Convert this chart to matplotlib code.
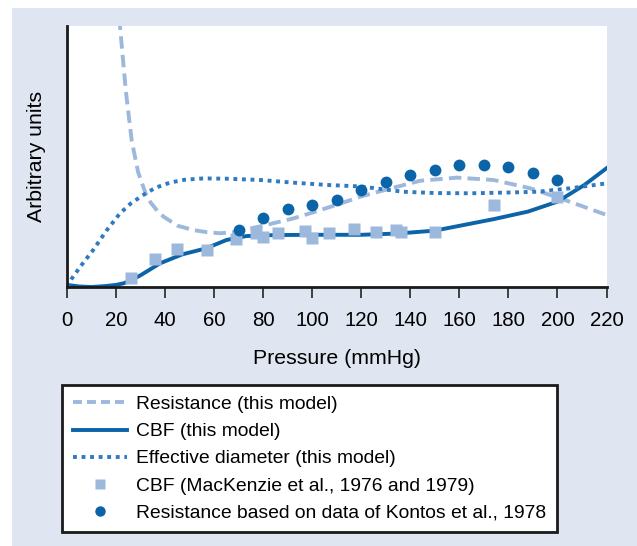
import matplotlib
matplotlib.use("Agg")
import matplotlib.pyplot as plt
from matplotlib.patches import Rectangle
from matplotlib.lines import Line2D

plt.rcParams['font.family'] = ['Liberation Sans', 'DejaVu Sans']

# model curves
res_x = [20, 21.6, 24, 26.4, 29, 32, 34, 37, 39.3, 45, 51.6, 57, 62.4, 68, 73.3, 80,
         92.4, 100, 110, 119.6, 130.5, 144, 159, 174, 189, 201, 210, 220]
res_y = [125, 100, 75, 56, 44, 36, 32.5, 29, 27, 23.5, 21.8, 21, 20.6, 21, 22.1, 23.5,
         26.3, 28.5, 31.5, 34.6, 37.4, 40.7, 41.9, 41, 37.8, 34, 31, 27.6]

cbf_x = [0, 5, 10, 15, 20, 23, 26, 30, 38, 47, 56.7, 65, 73, 80, 86, 100, 120, 135,
         150, 162, 174, 188, 200, 211, 220]
cbf_y = [0.8, 0.2, 0, 0.3, 0.8, 1.4, 2.5, 4.5, 9.1, 12.5, 14.8, 18, 19.5, 19.8, 19.9,
         20, 20, 20.5, 21.6, 23.8, 26, 28.9, 32.7, 39.1, 45.5]

dia_x = [0, 2, 6, 10.7, 16, 21.6, 26, 31, 36, 42, 48, 55.6, 65, 78.8, 92, 106, 120,
         137, 150, 164.5, 180, 192, 205, 220]
dia_y = [0, 3.3, 8.5, 14.2, 21.5, 28.2, 32, 35.2, 38, 40, 41.1, 41.6, 41.5, 41, 40,
         39.1, 38.5, 36.5, 36, 35.9, 36.2, 36.5, 37.8, 39.7]

# measured data
mk_x = [26, 36, 45, 57, 69, 77, 80, 86, 97, 100, 107, 117, 126, 134, 136, 150, 174, 200]
mk_y = [3.3, 10.6, 14.6, 14.2, 18.5, 20.6, 19.0, 20.6, 21.5, 18.7, 20.6, 22.1, 21.2,
        21.8, 21.2, 21.2, 31.4, 34.4]

ko_x = [70, 80, 90, 100, 110, 120, 130, 140, 150, 160, 170, 180, 190, 200]
ko_y = [21.8, 26.3, 30, 31.5, 33.3, 37.2, 40.2, 43.0, 44.8, 46.9, 46.9, 45.9, 43.8, 40.9]

labels = ['Resistance (this model)', 'CBF (this model)',
          'Effective diameter (this model)', 'CBF (MacKenzie et al., 1976 and 1979)',
          'Resistance based on data of Kontos et al., 1978']

light = '#9db8dd'
dark = '#0b63a8'
mid = '#2f7bc0'
bg = '#dfe6f1'

fig = plt.figure(figsize=(6.37, 5.46), dpi=100)
fig.patch.set_facecolor('white')
fig.patches.append(Rectangle((12 / 637, 0), 1, 1 - 8 / 546, transform=fig.transFigure,
                             facecolor=bg, edgecolor='none', zorder=-10))

ax = fig.add_axes([67 / 637, 1 - 287 / 546, (606.5 - 67) / 637, (287 - 26) / 546])
ax.set_facecolor('white')

ax.plot(res_x, res_y, color=light, lw=2.8, dashes=(3.2, 1.6))
ax.plot(cbf_x, cbf_y, color=dark, lw=2.8)
ax.plot(dia_x, dia_y, color=mid, lw=2.8, dashes=(1.0, 1.2))
ax.plot(mk_x, mk_y, ls='none', marker='s', ms=8.5, color=light, mec='none')
ax.plot(ko_x, ko_y, ls='none', marker='o', ms=8.5, color=dark, mec='none')

ax.set_xlim(0, 220)
ax.set_ylim(0, 100)
ax.set_xticks(range(0, 221, 20))
ax.set_yticks([])
ax.spines['top'].set_visible(False)
ax.spines['right'].set_visible(False)
for s in ('left', 'bottom'):
    ax.spines[s].set_linewidth(2)
    ax.spines[s].set_color('#1a1a1a')
ax.tick_params(axis='x', length=8, width=1.3, color='#333333', labelsize=14.7, pad=9)
ax.set_xlabel('Pressure (mmHg)', fontsize=15.3, labelpad=14)
ax.set_ylabel('Arbitrary units', fontsize=15.3, labelpad=15)

# legend proxies (legend dashes are drawn a bit shorter in the original)
handles = [
    Line2D([], [], color=light, lw=2.8, dashes=(2.3, 1.3)),
    Line2D([], [], color=dark, lw=2.8),
    Line2D([], [], color=mid, lw=2.8, dashes=(1.0, 1.2)),
    Line2D([], [], ls='none', marker='s', ms=7.5, color=light, mec='none'),
    Line2D([], [], ls='none', marker='o', ms=7.5, color=dark, mec='none'),
]
leg = fig.legend(handles, labels, loc='upper left',
                 bbox_to_anchor=(62 / 637, 1 - 385 / 546), fontsize=13.9,
                 fancybox=False, framealpha=1, edgecolor='#1a1a1a',
                 handlelength=2.8, handletextpad=0.5, labelspacing=0.5,
                 borderpad=0.55, borderaxespad=0)
leg.get_frame().set_linewidth(2)

plt.savefig('out.png', dpi=100)
plt.close()
